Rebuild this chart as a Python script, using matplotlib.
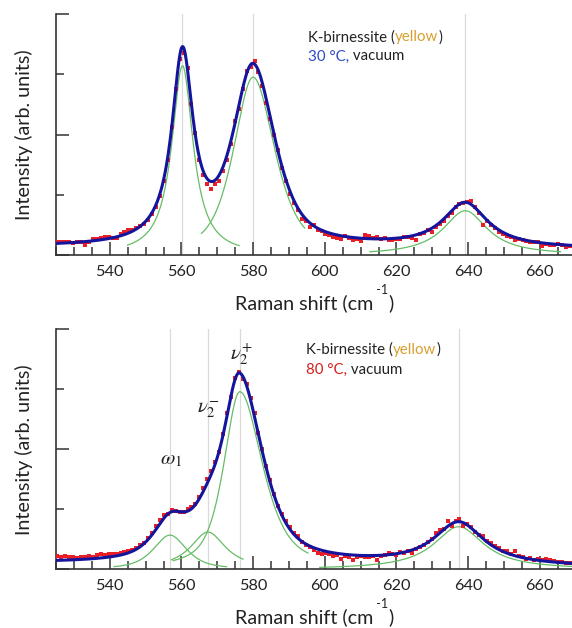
import numpy as np
import matplotlib
matplotlib.use("Agg")
import matplotlib.pyplot as plt
from matplotlib.ticker import MultipleLocator

# ---------------- data ----------------
# measured spectra: Raman shift grid start / spacing (cm-1) and intensities (arb. units)
dots_start, dots_step, dots_stop = 525.4, 1.1, 669.0

top_dots = [0.21, 0.22, 0.22, 0.21, 0.20, 0.22, 0.21, 0.17, 0.22, 0.26,
            0.27, 0.29, 0.30, 0.30, 0.29, 0.29, 0.35, 0.39, 0.42, 0.41,
            0.45, 0.48, 0.52, 0.58, 0.68, 0.80, 0.98, 1.22, 1.58, 2.12,
            2.76, 3.25, 3.36, 3.10, 2.50, 2.02, 1.58, 1.33, 1.18, 1.09,
            1.18, 1.22, 1.40, 1.58, 1.85, 2.22, 2.42, 2.75, 3.06, 3.12,
            3.22, 3.04, 2.80, 2.52, 2.25, 2.00, 1.74, 1.44, 1.22, 1.02,
            0.86, 0.74, 0.60, 0.56, 0.47, 0.50, 0.41, 0.40, 0.35, 0.34,
            0.30, 0.29, 0.27, 0.31, 0.28, 0.25, 0.26, 0.24, 0.34, 0.31,
            0.29, 0.30, 0.26, 0.29, 0.25, 0.25, 0.26, 0.27, 0.30, 0.30,
            0.28, 0.25, 0.35, 0.37, 0.41, 0.38, 0.47, 0.52, 0.57, 0.64,
            0.70, 0.80, 0.84, 0.86, 0.88, 0.90, 0.79, 0.69, 0.50, 0.56,
            0.49, 0.44, 0.39, 0.35, 0.31, 0.30, 0.25, 0.27, 0.25, 0.23,
            0.22, 0.21, 0.21, 0.15, 0.18, 0.17, 0.17, 0.18, 0.16, 0.14,
            0.15]

bot_dots = [0.22, 0.21, 0.22, 0.20, 0.21, 0.19, 0.21, 0.21, 0.22, 0.21,
            0.24, 0.25, 0.24, 0.26, 0.25, 0.26, 0.27, 0.29, 0.30, 0.33,
            0.36, 0.40, 0.44, 0.52, 0.60, 0.72, 0.82, 0.90, 0.93, 0.99,
            0.97, 0.95, 0.96, 1.00, 1.04, 1.08, 1.20, 1.35, 1.50, 1.64,
            1.78, 1.96, 2.25, 2.60, 2.88, 3.18, 3.29, 3.17, 3.08, 2.86,
            2.60, 2.28, 2.00, 1.72, 1.49, 1.26, 1.06, 0.92, 0.80, 0.70,
            0.60, 0.56, 0.46, 0.40, 0.37, 0.33, 0.28, 0.26, 0.27, 0.26,
            0.22, 0.24, 0.18, 0.22, 0.21, 0.16, 0.20, 0.23, 0.21, 0.21,
            0.22, 0.16, 0.22, 0.24, 0.27, 0.26, 0.24, 0.29, 0.28, 0.30,
            0.28, 0.34, 0.38, 0.40, 0.45, 0.50, 0.60, 0.66, 0.68, 0.80,
            0.72, 0.80, 0.84, 0.72, 0.76, 0.70, 0.62, 0.58, 0.55, 0.48,
            0.44, 0.39, 0.36, 0.31, 0.30, 0.26, 0.30, 0.23, 0.20, 0.18,
            0.19, 0.16, 0.18, 0.15, 0.17, 0.15, 0.14, 0.12, 0.12, 0.11,
            0.10]

# fitted peak components, top panel (30 °C)
top_centers = [560.3, 580.0, 639.2]
top_heights = [3.14, 2.95, 0.735]
top_hwhm_left = [3.6, 6.5, 7.5]
top_hwhm_right = [3.6, 7.2, 7.5]
top_eta = [1.0, 0.65, 1.0]
top_ranges = [(544.9, 576.1), (565.6, 594.4), (612.6, 665.8)]
top_baseline = [0.13, 0.10]
top_vlines = [560.3, 580.0, 639.2]

# fitted peak components, bottom panel (80 °C)
bot_centers = [556.8, 567.4, 576.3, 637.4]
bot_heights = [0.57, 0.62, 2.96, 0.71]
bot_hwhm_left = [5.5, 6.0, 5.3, 8.5]
bot_hwhm_right = [5.5, 6.0, 7.5, 8.5]
bot_eta = [0.7, 1.0, 0.65, 1.0]
bot_ranges = [(541.2, 572.6), (557.2, 577.2), (557.7, 595.3), (598.6, 669.0)]
bot_baseline = [0.10, 0.035]
bot_vlines = [556.8, 567.4, 576.3, 637.4]

x_ticks = [540, 560, 580, 600, 620, 640, 660]
XMIN, XMAX = 525.0, 669.0


def pv(x, c, h, gl, gr, eta):
    g = np.where(x < c, gl, gr)
    u = ((x - c) / g) ** 2
    return h * (eta / (1 + u) + (1 - eta) * np.exp(-np.log(2) * u))


def model(x, centers, heights, gls, grs, etas, base):
    b = base[0] + (base[1] - base[0]) * (x - XMIN) / (XMAX - XMIN)
    y = b.copy()
    for c, h, gl, gr, e in zip(centers, heights, gls, grs, etas):
        y = y + pv(x, c, h, gl, gr, e)
    return y


plt.rcParams['font.family'] = ['Lato', 'DejaVu Sans']
plt.rcParams['mathtext.fontset'] = 'stix'

fig = plt.figure(figsize=(5.72, 6.28), dpi=100)
W, H = 572.0, 628.0
ax1 = fig.add_axes([56 / W, 1 - 255 / H, 516 / W, 241 / H])
ax2 = fig.add_axes([56 / W, 1 - 569.3 / H, 516 / W, 240 / H])

dots_x = np.arange(dots_start, dots_stop, dots_step)

for ax, dots, cs, hs, gls, grs, es, rg, base, vl in [
        (ax1, top_dots, top_centers, top_heights, top_hwhm_left, top_hwhm_right, top_eta,
         top_ranges, top_baseline, top_vlines),
        (ax2, bot_dots, bot_centers, bot_heights, bot_hwhm_left, bot_hwhm_right, bot_eta,
         bot_ranges, bot_baseline, bot_vlines)]:
    for v in vl:
        ax.axvline(v, color='#dadada', lw=0.9, zorder=1)
    for c, h, gl, gr, e, (a, b) in zip(cs, hs, gls, grs, es, rg):
        xx = np.linspace(a, b, 300)
        ax.plot(xx, pv(xx, c, h, gl, gr, e), color='#66bd66', lw=0.9, zorder=2)
    ax.plot(dots_x[:len(dots)], dots, 's', color='#ea1f26', ms=2.8, mew=0, zorder=3)
    xx = np.linspace(XMIN, XMAX, 800)
    ax.plot(xx, model(xx, cs, hs, gls, grs, es, base), color='#14149c', lw=2.2, zorder=4)
    ax.set_xlim(XMIN, XMAX)
    ax.set_ylim(0, 4)
    for s in ['top', 'right']:
        ax.spines[s].set_visible(False)
    for s in ['left', 'bottom']:
        ax.spines[s].set_color('#333333')
        ax.spines[s].set_linewidth(1.2)
    ax.set_xticks(x_ticks)
    ax.xaxis.set_minor_locator(MultipleLocator(5))
    ax.yaxis.set_major_locator(MultipleLocator(2))
    ax.yaxis.set_minor_locator(MultipleLocator(1))
    ax.tick_params(axis='both', which='both', direction='in', color='#333333', width=1.1)
    ax.tick_params(axis='both', which='major', length=9.4)
    ax.tick_params(axis='both', which='minor', length=5.5)
    ax.tick_params(axis='x', which='major', labelsize=11.7, pad=7, labelcolor='#222222')
    ax.tick_params(axis='y', labelleft=False)

for yc in [134.5, 449.3]:
    fig.text(24 / W, 1 - yc / H, 'Intensity (arb. units)', rotation=90, ha='center', va='center',
             fontsize=14.2, color='#222222')

renderer = fig.canvas.get_renderer()


def text_width(s, fs):
    t = fig.text(0, 0, s, fontsize=fs)
    w = t.get_window_extent(renderer=renderer).width
    t.remove()
    return w


def xlabel(cx, base_y):
    parts = [('Raman shift (cm', 14.2, 0.0), (' -1', 9.0, 15.0), (')', 14.2, 0.0)]
    total = sum(text_width(s, fs) for s, fs, _ in parts)
    xpos = cx - total / 2
    for s, fs, rise in parts:
        fig.text(xpos / W, 1 - (base_y - rise) / H, s, fontsize=fs, color='#222222',
                 va='baseline', ha='left')
        xpos += text_width(s, fs)


xlabel(314, 309.0)
xlabel(314, 623.3)


def rich_line(x, y, parts, fs=10.8):
    xpos = x
    for s, c in parts:
        t = fig.text(xpos / W, 1 - y / H, s, color=c, fontsize=fs, va='baseline', ha='left')
        xpos += t.get_window_extent(renderer=renderer).width


rich_line(308, 41.5, [('K-birnessite (', '#222222'), ('yellow', '#d8a030'), (')', '#222222')])
rich_line(308, 60.5, [('30 °C,', '#2e4bc6'), (' vacuum', '#222222')])
rich_line(306, 354, [('K-birnessite (', '#222222'), ('yellow', '#d8a030'), (')', '#222222')])
rich_line(306, 374, [('80 °C,', '#d42020'), (' vacuum', '#222222')])

fig.text(171 / W, 1 - 459 / H, r'$\omega_{\mathit{1}}$', ha='center', va='center', fontsize=15, color='#222222')
fig.text(208.5 / W, 1 - 410 / H, r'$\nu_{\mathit{2}}^{-}$', ha='center', va='center', fontsize=15, color='#222222')
fig.text(241.5 / W, 1 - 354 / H, r'$\nu_{\mathit{2}}^{+}$', ha='center', va='center', fontsize=15, color='#222222')

fig.savefig('out.png', dpi=100)
